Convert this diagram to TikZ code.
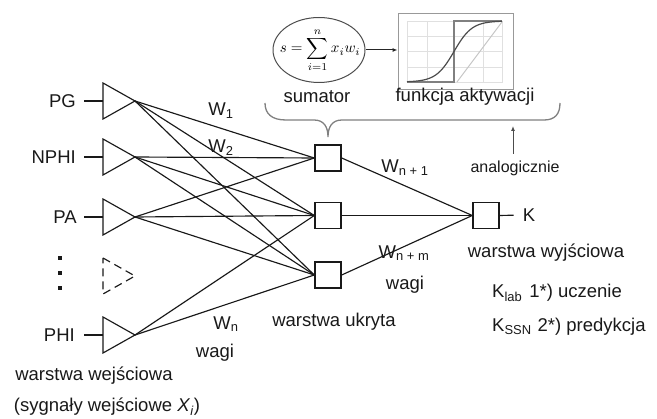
\documentclass[tikz,border=0pt]{standalone}
\usepackage{graphicx}
\usepackage{fontspec}
\setmainfont{Liberation Sans}
\usetikzlibrary{arrows.meta,shapes.geometric}
\newcommand\intri[3][]{%
  \draw[conn,#1] (103,#3-18) -- (135,#3) -- (103,#3+18) -- cycle;
  \coordinate (#2A) at (135,#3);
  \coordinate (#2B) at (103,#3);}
\begin{document}
\begin{tikzpicture}[x=1pt,y=-1pt,
  lbl/.style={font=\fontsize{18.5}{22}\selectfont, inner sep=0pt, text=black!90},
  smalllbl/.style={font=\fontsize{16}{19}\selectfont, inner sep=0pt, text=black!90},
  conn/.style={line width=1.15pt, draw=black!90},
  neuron/.style={draw=black!90, line width=1.4pt, minimum size=26pt, inner sep=0pt},
  dotsq/.style={fill=black!90, minimum size=4pt, inner sep=0pt},
  brace/.style={draw=black!50, line width=1.3pt},
  gridl/.style={draw=black!12, line width=0.6pt}]
\useasboundingbox (0,0) rectangle (657,419);

% input layer
\intri{pg}{101}
\intri{nphi}{157}
\intri{pa}{217}
\intri{phi}{335}
\draw[conn, dash pattern=on 8pt off 5pt] (103,258) -- (135,276) -- (103,294) -- cycle;

\node[lbl, anchor=east] (pgL) at (76,101) {PG};
\node[lbl, anchor=east] (nphiL) at (76,157) {NPHI};
\node[lbl, anchor=east] (paL) at (77,217) {PA};
\node[lbl, anchor=east] (phiL) at (75,335) {PHI};
\draw[conn] ([xshift=8pt]pgL.east) -- (pgB);
\draw[conn] ([xshift=8pt]nphiL.east) -- (nphiB);
\draw[conn] ([xshift=7pt]paL.east) -- (paB);
\draw[conn] ([xshift=9pt]phiL.east) -- (phiB);

\node[dotsq] (d1) at (60,258) {};
\node[dotsq] (d2) at (60,273) {};
\node[dotsq] (d3) at (60,288) {};

% hidden layer
\node[neuron] (h1) at (328,158) {};
\node[neuron] (h2) at (328,215.5) {};
\node[neuron] (h3) at (328,275) {};

\foreach \s in {pg,nphi,pa}{
  \foreach \h in {h1,h2,h3}{\draw[conn] (\s A) -- (\h.west);}}
\draw[conn] (phiA) -- (h2.west);
\draw[conn] (phiA) -- (h3.west);

% output
\node[neuron] (out) at (486,215.5) {};
\node[lbl] (K) at (529,215) {K};
\draw[conn, shorten >=9pt] (out.east) -- (K.west);
\foreach \h in {h1,h2,h3}{\draw[conn] (\h.east) -- (out.west);}

% labels
\node[lbl] (w1) at (221,111) {W\textsubscript{1}};
\node[lbl] (w2) at (221,148) {W\textsubscript{2}};
\node[lbl] (wn) at (226,324) {W\textsubscript{n}};
\node[lbl] (wagi1) at (215,353) {wagi};
\node[lbl] (wn1) at (405,168) {W\textsubscript{n + 1}};
\node[lbl] (wnm) at (404,253) {W\textsubscript{n + m}};
\node[lbl] (wagi2) at (405,285) {wagi};
\node[lbl] (ukr) at (334,322) {warstwa ukryta};
\node[lbl] (wej) at (94,376) {warstwa wejściowa};
\node[lbl] (syg) at (107,407) {(sygnały wejściowe \textit{X}\textsubscript{\textit{i}})};
\node[lbl] (wyj) at (546,253) {warstwa wyjściowa};
\node[lbl, anchor=west] (klab) at (492,293) {K\textsubscript{lab}\hspace{7pt}1*) uczenie};
\node[lbl, anchor=west] (kssn) at (492,327) {K\textsubscript{SSN}\hspace{6pt}2*) predykcja};

% top: sumator and activation
\node[ellipse, draw=black!70, line width=1pt, minimum width=92pt, minimum height=65pt, inner sep=0pt]
  (ell) at (319,50) {};
\node[inner sep=0pt] (fml) at (320,50) {\scalebox{1.5}{$\displaystyle s=\sum_{i=1}^{n}x_i w_i$}};
\node[draw=black!40, line width=0.9pt, minimum width=115pt, minimum height=76pt, inner sep=0pt]
  (act) at (455.5,51) {};
\draw[gridl] (407,21) rectangle (502,82);
\foreach \gx in {427,483}{\draw[gridl] (\gx,21) -- (\gx,82);}
\foreach \gy in {36,51,67}{\draw[gridl] (407,\gy) -- (502,\gy);}
\draw[draw=black!22, line width=1pt] (457,82) -- (502,22);
\draw[draw=black!50, line width=1.1pt] (407,82) -- (454,82) -- (454,21) -- (502,21);
\draw[draw=black!70, line width=1.2pt, domain=407:502, samples=60, smooth]
  plot ({\x},{82-61/(1+exp(-(\x-454)/9))});
\draw[line width=1pt, black!85, -{Latex[length=5pt,width=4pt]}] (ell.east) -- (ell.east -| act.west);

\node[lbl] (sum) at (317,97) {sumator};
\node[lbl] (fa) at (465,97) {funkcja aktywacji};

\draw[brace] (265,103) .. controls (265,114) and (272,120) .. (286,120) -- (314,120)
  .. controls (324,120) and (328,127) .. (328,137)
  .. controls (328,127) and (332,120) .. (342,120) -- (544,120)
  .. controls (555,120) and (560,114) .. (560,103);

\node[smalllbl] (ana) at (515,168) {analogicznie};
\coordinate (anaTop) at (513,126);
\draw[line width=1pt, black!70, -{Latex[length=5pt,width=4pt]}] (513,154) -- (anaTop);
\end{tikzpicture}
\end{document}
